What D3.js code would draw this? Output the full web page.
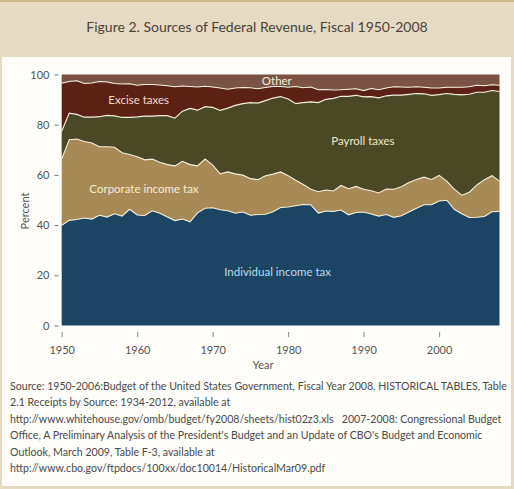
<!DOCTYPE html>
<html>
<head>
<meta charset="utf-8">
<script src="https://cdn.jsdelivr.net/npm/d3@7"></script>
<style>
  html, body { margin: 0; padding: 0; background: #e5dbc5; }
  svg { display: block; font-family: Lato, "Open Sans", sans-serif; }
</style>
</head>
<body>
<div id="chart"></div>
<script>
// share of federal receipts by source, percent of total, fiscal 1950-2008
const years = d3.range(1950, 2009);

const individual = [39.9, 41.9, 42.2, 42.8, 42.4, 43.9, 43.2, 44.5, 43.6, 46.3,
  44.0, 43.8, 45.7, 44.7, 43.2, 41.8, 42.4, 41.3, 44.9, 46.7,
  46.9, 46.1, 45.7, 44.7, 45.2, 43.9, 44.2, 44.3, 45.3, 47.0,
  47.2, 47.7, 48.2, 48.1, 44.8, 45.6, 45.4, 46.0, 44.1, 45.0,
  45.2, 44.4, 43.6, 44.2, 43.1, 43.7, 45.2, 46.7, 48.1, 48.1,
  49.6, 49.9, 46.3, 44.5, 43.0, 43.1, 43.4, 45.3, 45.4];

const corporate = [26.5, 32.1, 32.1, 30.5, 30.3, 27.3, 28.0, 26.5, 25.2, 21.8,
  23.2, 22.2, 20.6, 20.3, 20.9, 21.8, 23.0, 22.8, 18.7, 19.6,
  17.0, 14.3, 15.5, 15.7, 14.7, 14.6, 13.9, 15.4, 15.0, 14.2,
  12.5, 10.2, 8.0, 6.2, 8.5, 8.4, 8.2, 9.8, 10.4, 10.4,
  9.1, 9.3, 9.2, 10.2, 11.2, 11.6, 11.8, 11.5, 11.0, 10.1,
  10.2, 7.6, 8.0, 7.4, 10.1, 12.9, 14.7, 14.4, 12.1];

const payroll = [11.0, 10.6, 9.8, 9.7, 10.3, 12.0, 12.5, 12.5, 14.1, 14.8,
  15.9, 17.4, 17.1, 18.6, 19.5, 19.0, 20.0, 22.4, 22.2, 20.9,
  23.0, 25.3, 25.4, 27.3, 28.5, 30.3, 30.5, 29.9, 30.3, 30.0,
  30.5, 30.5, 32.6, 34.8, 35.5, 36.1, 36.9, 35.5, 36.8, 36.3,
  36.8, 37.5, 37.9, 37.1, 37.5, 36.5, 35.1, 34.2, 33.2, 33.5,
  32.2, 34.9, 37.8, 40.0, 39.0, 36.9, 34.8, 33.9, 35.7];

const excise = [19.1, 12.6, 13.4, 13.4, 13.6, 14.0, 13.3, 12.9, 13.3, 13.4,
  12.6, 12.6, 12.6, 12.2, 11.9, 12.5, 10.0, 8.7, 9.2, 8.1,
  8.1, 8.9, 7.5, 6.9, 6.4, 5.9, 5.7, 5.2, 4.6, 4.0,
  4.7, 6.8, 5.9, 5.9, 5.1, 3.9, 3.3, 2.6, 2.8, 2.6,
  2.5, 3.2, 3.2, 3.1, 3.3, 3.2, 2.8, 2.7, 2.6, 2.9,
  2.6, 2.5, 2.8, 3.0, 3.0, 2.8, 2.6, 2.3, 2.5];

const other = [3.5, 2.8, 2.5, 3.6, 3.4, 2.8, 3.0, 3.6, 3.8, 3.7,
  4.3, 4.0, 4.0, 4.2, 4.5, 4.9, 4.6, 4.8, 5.0, 4.7,
  5.0, 5.4, 5.9, 5.4, 5.2, 5.3, 5.7, 5.2, 4.8, 4.8,
  5.1, 4.8, 5.3, 5.0, 6.1, 6.0, 6.2, 6.1, 5.9, 5.7,
  6.4, 5.6, 6.1, 5.4, 4.9, 5.0, 5.1, 4.9, 5.1, 5.4,
  5.4, 5.1, 5.1, 5.1, 4.9, 4.3, 4.5, 4.1, 4.3];

const seriesNames = ["Individual income tax", "Corporate income tax", "Payroll taxes", "Excise taxes", "Other"];
const yTicks = [0, 20, 40, 60, 80, 100];
const xTicks = [1950, 1960, 1970, 1980, 1990, 2000];

const sourceLines = [
  "Source: 1950-2006:Budget of the United States Government, Fiscal Year 2008, HISTORICAL TABLES, Table",
  "2.1 Receipts by Source: 1934-2012, available at",
  "http://www.whitehouse.gov/omb/budget/fy2008/sheets/hist02z3.xls   2007-2008: Congressional Budget",
  "Office, A Preliminary Analysis of the President's Budget and an Update of CBO's Budget and Economic",
  "Outlook, March 2009, Table F-3, available at",
  "http://www.cbo.gov/ftpdocs/100xx/doc10014/HistoricalMar09.pdf"
];

const width = 514, height = 489;
const plot = { left: 61.7, right: 499.5, top: 74.5, bottom: 325.5 };

const colors = {
  "Individual income tax": "#1b4563",
  "Corporate income tax": "#a78a56",
  "Payroll taxes": "#4a4825",
  "Excise taxes": "#5b2115",
  "Other": "#7b5344"
};

// label anchor in data units (year, percent) and text colour
const labelSpots = [
  { name: "Other", year: 1978.5, pct: 95.9, fill: "#f6ecd9" },
  { name: "Excise taxes", year: 1960.2, pct: 88.1, fill: "#f1dcc9" },
  { name: "Payroll taxes", year: 1989.9, pct: 71.9, fill: "#efe7c2" },
  { name: "Corporate income tax", year: 1960.9, pct: 52.8, fill: "#f7ebcf" },
  { name: "Individual income tax", year: 1978.6, pct: 19.8, fill: "#b9dcef" }
];

const table = years.map((yr, i) => ({
  year: yr,
  "Individual income tax": individual[i],
  "Corporate income tax": corporate[i],
  "Payroll taxes": payroll[i],
  "Excise taxes": excise[i],
  "Other": other[i]
}));

const x = d3.scaleLinear().domain([1950, 2008]).range([plot.left, plot.right]);
const y = d3.scaleLinear().domain([0, 100]).range([plot.bottom, plot.top]);

const stacked = d3.stack().keys(seriesNames)(table);

const svg = d3.select("#chart").append("svg")
  .attr("width", width)
  .attr("height", height);

// frame: beige title band, white panel below
svg.append("rect").attr("x", 0).attr("y", 0).attr("width", width).attr("height", height).attr("fill", "#e5dbc5");
svg.append("rect").attr("x", 0).attr("y", 0).attr("width", width).attr("height", 2).attr("fill", "#cdbb8f");
svg.append("rect").attr("x", 2).attr("y", 57).attr("width", 509).attr("height", 429).attr("fill", "#fefdf9");

svg.append("text")
  .attr("x", 257).attr("y", 31.5)
  .attr("text-anchor", "middle")
  .style("font-size", "14px")
  .style("fill", "#4b4237")
  .text("Figure 2. Sources of Federal Revenue, Fiscal 1950-2008");

const area = d3.area()
  .x(d => x(d.data.year))
  .y0(d => y(d[0]))
  .y1(d => y(d[1]));

svg.append("g").selectAll("path")
  .data(stacked)
  .enter()
  .append("path")
  .attr("d", area)
  .attr("fill", d => colors[d.key]);

const edge = d3.line()
  .x(d => x(d.data.year))
  .y(d => y(d[1]));

svg.append("g").selectAll("path")
  .data(stacked.slice(0, 4))
  .enter()
  .append("path")
  .attr("d", edge)
  .attr("fill", "none")
  .attr("stroke", "#f4eedb")
  .attr("stroke-width", 1.1);

svg.append("g").selectAll("text")
  .data(labelSpots)
  .enter()
  .append("text")
  .attr("x", d => x(d.year))
  .attr("y", d => y(d.pct))
  .attr("text-anchor", "middle")
  .style("font-size", "11.5px")
  .style("fill", d => d.fill)
  .text(d => d.name);

// axes
const yAxis = svg.append("g")
  .attr("transform", "translate(54.5,0)")
  .call(d3.axisLeft(y).tickValues(yTicks).tickSize(4).tickPadding(1));
yAxis.select(".domain").remove();
yAxis.selectAll("line").attr("transform", "translate(4,0)").attr("stroke", "#777");
yAxis.selectAll("text").style("font-size", "11px").style("fill", "#555").style("font-family", "Lato, sans-serif");

const xAxis = svg.append("g")
  .attr("transform", `translate(0,${332})`)
  .call(d3.axisBottom(x).tickValues(xTicks).tickFormat(d3.format("d")).tickSize(5).tickPadding(9));
xAxis.select(".domain").remove();
xAxis.selectAll("line").attr("stroke", "#888");
xAxis.selectAll("text").style("font-size", "11px").style("fill", "#555").style("font-family", "Lato, sans-serif");

svg.append("text")
  .attr("transform", "translate(29,211) rotate(-90)")
  .attr("text-anchor", "middle")
  .style("font-size", "11px")
  .style("fill", "#555")
  .text("Percent");

svg.append("text")
  .attr("x", 263).attr("y", 369)
  .attr("text-anchor", "middle")
  .style("font-size", "11px")
  .style("fill", "#555")
  .text("Year");

svg.append("g").selectAll("text")
  .data(sourceLines)
  .enter()
  .append("text")
  .attr("x", 10)
  .attr("y", (d, i) => 389.5 + i * 16.5)
  .style("font-size", "10.6px")
  .style("fill", "#4a4a4a")
  .attr("xml:space", "preserve")
  .style("white-space", "pre")
  .text(d => d);
</script>
</body>
</html>
